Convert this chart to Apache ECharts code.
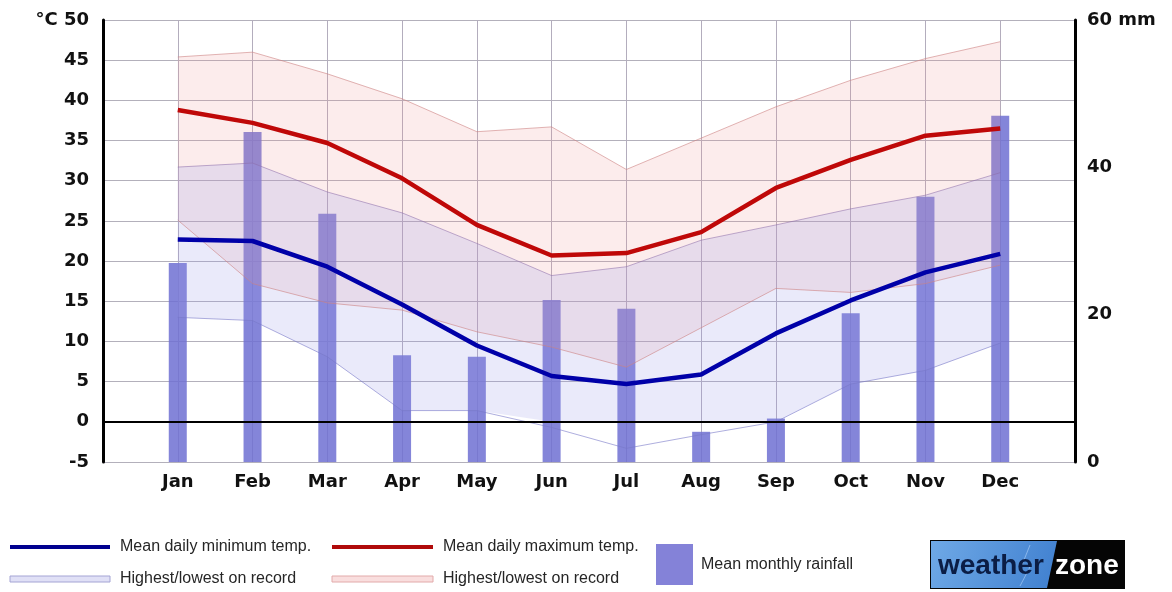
<!DOCTYPE html>
<html>
<head>
<meta charset="utf-8">
<script src="https://cdn.jsdelivr.net/npm/echarts@6.0.0/dist/echarts.min.js"></script>
<style>
html,body{margin:0;padding:0;background:#fff;}
#chart{width:1172px;height:592px;}
</style>
</head>
<body>
<div id="chart"></div>
<script>
// ---- data ----
var months = ['Jan','Feb','Mar','Apr','May','Jun','Jul','Aug','Sep','Oct','Nov','Dec'];
var meanMax    = [38.8, 37.2, 34.7, 30.3, 24.5, 20.7, 21.0, 23.6, 29.1, 32.6, 35.6, 36.5];
var meanMin    = [22.7, 22.5, 19.3, 14.6, 9.5, 5.7, 4.7, 5.9, 11.0, 15.1, 18.6, 20.9];
var maxRecHigh = [45.4, 46.0, 43.3, 40.2, 36.1, 36.7, 31.4, 35.3, 39.2, 42.5, 45.2, 47.3];
var maxRecLow  = [25.1, 17.2, 14.8, 13.9, 11.2, 9.3, 6.8, 11.7, 16.6, 16.1, 17.2, 19.5];
var minRecHigh = [31.7, 32.2, 28.6, 26.0, 22.2, 17.5, 16.0, 21.0, 24.5, 26.5, 28.2, 31.0];
var minRecLow  = [13.0, 12.6, 8.1, 1.4, 1.4, -0.7, -3.3, -1.6, 0.0, 4.7, 6.4, 9.8];
var rainfall   = [27.0, 44.8, 33.7, 14.5, 14.3, 22.0, 20.8, 4.1, 5.9, 20.2, 36.0, 47.0];
var tempTicks  = {min: -5, max: 50, interval: 5};
var rainTicks  = {min: 0, max: 60, interval: 20};
var legendLabels = ['Mean daily minimum temp.', 'Mean daily maximum temp.', 'Highest/lowest on record', 'Highest/lowest on record', 'Mean monthly rainfall'];

// axis has an empty slot before Jan and after Dec
var axisCats = [''].concat(months, ['']);
function pad(arr){ return ['-'].concat(arr, ['-']); }
function diff(hi, lo){ return pad(hi.map(function(v,i){ return +(v - lo[i]).toFixed(2); })); }

var labelFont = {fontFamily:'DejaVu Sans', fontWeight:'bold', fontSize:18, color:'#111'};
var legendFont = 'normal 16px "Liberation Sans", Arial, sans-serif';

var chart = echarts.init(document.getElementById('chart'), null, {renderer:'canvas'});
var option = {
  animation:false,
  backgroundColor:'#fff',
  grid:{left:103, right:97, top:20, bottom:130, containLabel:false},
  xAxis:{
    type:'category', data:axisCats, boundaryGap:false,
    axisLine:{show:false}, axisTick:{show:false},
    splitLine:{show:true, interval:0, lineStyle:{color:'#b3adbd', width:1}},
    axisLabel:Object.assign({margin:11, interval:0}, labelFont)
  },
  yAxis:[
    {type:'value', position:'left', min:tempTicks.min, max:tempTicks.max, interval:tempTicks.interval,
     axisLine:{show:true, lineStyle:{color:'#000', width:3}}, axisTick:{show:false},
     splitLine:{show:true, lineStyle:{color:'#b3b0bb', width:1}},
     axisLabel:Object.assign({margin:14, formatter:function(v){ return v===tempTicks.max ? '\u00B0C ' + v : String(v); }}, labelFont)},
    {type:'value', position:'right', min:rainTicks.min, max:rainTicks.max, interval:rainTicks.interval,
     axisLine:{show:true, lineStyle:{color:'#000', width:3}}, axisTick:{show:false},
     splitLine:{show:false},
     axisLabel:Object.assign({margin:12, formatter:function(v){ return v===rainTicks.max ? v + ' mm' : String(v); }}, labelFont)}
  ],
  series:[
    {name:'maxLow', type:'line', stack:'red', data:pad(maxRecLow), symbol:'none',
     lineStyle:{color:'rgba(205,130,130,0.6)', width:1}},
    {name:'maxHigh', type:'line', stack:'red', data:diff(maxRecHigh, maxRecLow), symbol:'none',
     lineStyle:{color:'rgba(205,130,130,0.6)', width:1},
     areaStyle:{color:'rgba(240,150,150,0.25)'}},
    {name:'minLow', type:'line', stack:'blue', data:pad(minRecLow), symbol:'none',
     lineStyle:{color:'rgba(120,120,200,0.6)', width:1}},
    {name:'minHigh', type:'line', stack:'blue', data:diff(minRecHigh, minRecLow), symbol:'none',
     lineStyle:{color:'rgba(140,110,170,0.55)', width:1},
     areaStyle:{color:'rgba(150,150,230,0.29)'}},
    {name:'Mean monthly rainfall', type:'bar', yAxisIndex:1, data:pad(rainfall), barWidth:18,
     itemStyle:{color:'rgba(110,112,210,0.85)'}},
    {name:'Mean daily minimum temp.', type:'line', data:pad(meanMin), symbol:'none',
     lineStyle:{color:'#0000a8', width:4.5},
     markLine:{silent:true, symbol:'none', label:{show:false},
       lineStyle:{color:'#000', width:2, type:'solid'}, data:[{yAxis:0}]}},
    {name:'Mean daily maximum temp.', type:'line', data:pad(meanMax), symbol:'none',
     lineStyle:{color:'#bf0808', width:4.5}}
  ],
  graphic:[
    // row 1
    {type:'line', shape:{x1:10, y1:547, x2:110, y2:547}, style:{stroke:'#00008f', lineWidth:4}},
    {type:'text', x:120, y:547, style:{text:legendLabels[0], font:legendFont, fill:'#262626', verticalAlign:'middle'}},
    {type:'line', shape:{x1:332, y1:547, x2:433, y2:547}, style:{stroke:'#b00a0a', lineWidth:4}},
    {type:'text', x:443, y:547, style:{text:legendLabels[1], font:legendFont, fill:'#262626', verticalAlign:'middle'}},
    // row 2
    {type:'rect', shape:{x:10, y:576, width:100, height:6}, style:{fill:'#e0e0f6', stroke:'#a4a4d4', lineWidth:1}},
    {type:'text', x:120, y:579, style:{text:legendLabels[2], font:legendFont, fill:'#262626', verticalAlign:'middle'}},
    {type:'rect', shape:{x:332, y:576, width:101, height:6}, style:{fill:'#f9dede', stroke:'#e2aaaa', lineWidth:1}},
    {type:'text', x:443, y:579, style:{text:legendLabels[3], font:legendFont, fill:'#262626', verticalAlign:'middle'}},
    // rainfall
    {type:'rect', shape:{x:656, y:544, width:37, height:41}, style:{fill:'#8482d8'}},
    {type:'text', x:701, y:565, style:{text:legendLabels[4], font:legendFont, fill:'#262626', verticalAlign:'middle'}},
    // logo
    {type:'rect', shape:{x:930, y:540, width:195, height:49}, style:{fill:'#050505'}},
    {type:'polygon', shape:{points:[[931,541],[1057,541],[1047,588],[931,588]]},
     style:{fill:new echarts.graphic.LinearGradient(0,0,1,1,[{offset:0,color:'#6fa9e6'},{offset:1,color:'#3f7fcf'}])}},
    {type:'polyline', shape:{points:[[1030,545],[1022,565],[1030,567],[1020,586]]}, style:{stroke:'rgba(200,225,255,0.5)', lineWidth:1, fill:null}},
    {type:'text', x:938, y:566, style:{text:'weather', font:'bold 28px "Liberation Sans", Arial, sans-serif', fill:'#0b1d45', verticalAlign:'middle'}},
    {type:'text', x:1055, y:566, style:{text:'zone', font:'bold 28px "Liberation Sans", Arial, sans-serif', fill:'#ffffff', verticalAlign:'middle'}}
  ]
};
chart.setOption(option);
</script>
</body>
</html>
